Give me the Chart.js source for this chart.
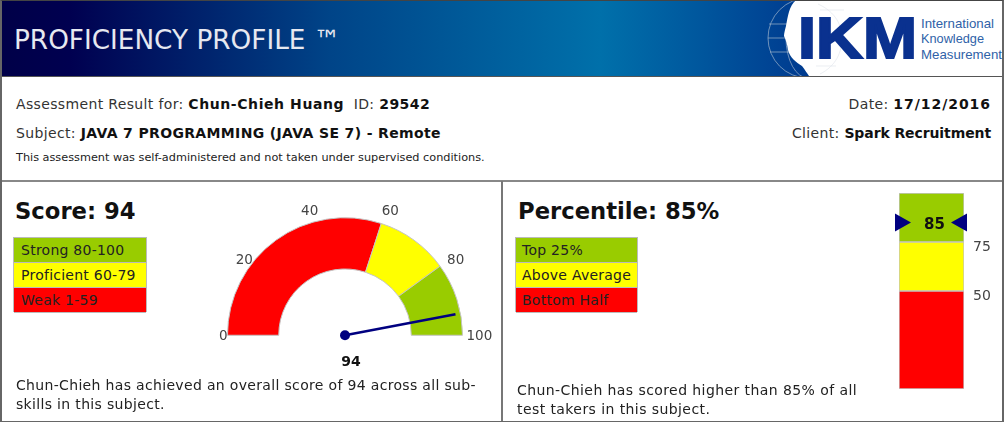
<!DOCTYPE html>
<html lang="en">
<head>
<meta charset="UTF-8">
<script src="https://cdn.jsdelivr.net/npm/chart.js"></script>
<style>
  html, body { margin: 0; padding: 0; background: #fff; }
  body { width: 1004px; height: 422px; position: relative; overflow: hidden; font-family: "DejaVu Sans", sans-serif; color: #333; }
  .abs { position: absolute; white-space: nowrap; }
  b { color: #111; letter-spacing: 0.45px; }
  #frame { position: absolute; left: 0; top: 0; width: 1000px; height: 420px; border: 2px solid #666; border-top-width: 1px; border-top-color: #444; border-bottom-width: 1px; pointer-events: none; z-index: 5; }
  #header { position: absolute; left: 0; top: 0; width: 1004px; height: 76px; border-bottom: 1px solid #555;
    background: linear-gradient(90deg, #000048 0, #000050 70px, #004488 330px, #0070aa 600px, #005ca0 680px, #003c90 800px); }
  #title { left: 14px; top: 25px; font-size: 26.3px; color: #e6e8f0; }
  #rule { position: absolute; left: 0; top: 180px; width: 1004px; height: 2px; background: #888; }
  #divider { position: absolute; left: 501px; top: 181px; width: 2px; height: 241px; background: #777; }
  .info { font-size: 14px; letter-spacing: 0.35px; }
  .heading { font-size: 22.7px; font-weight: bold; color: #111; }
  .legend { position: absolute; width: 134px; font-size: 14px; letter-spacing: 0.25px; color: #222; border: 1px solid #bbb; border-bottom: 0; box-sizing: border-box; }
  .legend div { height: 25px; line-height: 25px; padding-left: 7px; border-bottom: 1px solid #bbb; box-sizing: border-box; white-space: nowrap; }
  .note { font-size: 14px; letter-spacing: 0.33px; color: #222; line-height: 19px; }
  canvas { position: absolute; }
</style>
</head>
<body>
<div id="header">
  <div id="title" class="abs">PROFICIENCY PROFILE ™</div>
  <svg style="position:absolute;left:760px;top:0" width="244" height="76" viewBox="0 0 244 76">
    <g fill="none" stroke="#9fb4cc" stroke-width="0.7">
      <circle cx="48" cy="38" r="40"/>
      <ellipse cx="48" cy="38" rx="22" ry="40"/>
      <path d="M9 24H87M8 38H88M10 52H86"/>
    </g>
    <path fill="#fff" d="M36 0C29 6 28 16 26 26C25 30 24 33 24 36C26 40 27 44 28 50C30 58 36 62 42 66C45 70 47 73 49 76H244V0Z"/>
    <g fill="none" stroke="#e2e6ec" stroke-width="0.7">
      <path d="M58 4C76 12 82 26 82 38C82 52 76 66 60 74"/>
      <path d="M60 10H84M56 66H76"/>
    </g>
    <text x="38" y="58" font-family="Liberation Sans" font-weight="bold" font-size="58" fill="#0a318f" textLength="119" lengthAdjust="spacingAndGlyphs" stroke="#0a318f" stroke-width="2">IKM</text>
    <text x="161" y="28" font-family="Liberation Sans" font-size="13" fill="#2f62a8" textLength="73" lengthAdjust="spacingAndGlyphs">International</text>
    <text x="161" y="43" font-family="Liberation Sans" font-size="13" fill="#2f62a8" textLength="63" lengthAdjust="spacingAndGlyphs">Knowledge</text>
    <text x="161" y="59" font-family="Liberation Sans" font-size="13" fill="#2f62a8" textLength="81" lengthAdjust="spacingAndGlyphs">Measurement</text>
  </svg>
</div>

<div class="abs info" style="left:16px;top:96px">Assessment Result for: <b style="letter-spacing:0.58px">Chun-Chieh Huang</b> &nbsp;ID: <b>29542</b></div>
<div class="abs info" style="left:16px;top:125px">Subject: <b style="letter-spacing:0.35px">JAVA 7 PROGRAMMING (JAVA SE 7) - Remote</b></div>
<div class="abs" style="left:16px;top:151px;font-size:11.27px;color:#222">This assessment was self-administered and not taken under supervised conditions.</div>
<div class="abs info" style="right:13px;top:96px">Date: <b style="letter-spacing:0.95px">17/12/2016</b></div>
<div class="abs info" style="right:13px;top:125px">Client: <b style="letter-spacing:-0.1px">Spark Recruitment</b></div>

<div id="rule"></div>
<div id="divider"></div>

<div class="abs heading" style="left:15px;top:198px">Score: 94</div>
<div class="legend" style="left:13px;top:237px;height:75px">
  <div style="background:#99cc00">Strong 80-100</div>
  <div style="background:#ffff00">Proficient 60-79</div>
  <div style="background:#ff0000">Weak 1-59</div>
</div>
<canvas id="gauge" style="left:200px;top:190px;width:300px;height:190px" width="300" height="190"></canvas>
<div class="abs note" style="left:16px;top:376px">Chun-Chieh has achieved an overall score of 94 across all sub-<br>skills in this subject.</div>

<div class="abs heading" style="left:518px;top:198px">Percentile: 85%</div>
<div class="legend" style="left:515px;top:237px;height:75px;width:123px">
  <div style="background:#99cc00;padding-left:6px">Top 25%</div>
  <div style="background:#ffff00;padding-left:6px">Above Average</div>
  <div style="background:#ff0000;padding-left:6px">Bottom Half</div>
</div>
<canvas id="bar" style="left:870px;top:183px;width:130px;height:216px" width="130" height="216"></canvas>
<div class="abs note" style="left:517px;top:381px;letter-spacing:0.42px">Chun-Chieh has scored higher than 85% of all<br>test takers in this subject.</div>
<div id="frame"></div>

<script>
  // gauge
  const gaugeBands = [60, 20, 20];
  const gaugeColors = ['#ff0000', '#ffff00', '#99cc00'];
  const gaugeTicks = [0, 20, 40, 60, 80, 100];
  const gaugeMax = 100;
  const score = 94;

  // percentile bar
  const barBands = [50, 25, 25];
  const barColors = ['#ff0000', '#ffff00', '#99cc00'];
  const barTicks = [50, 75];
  const percentile = 85;

  const bandBorder = '#c4c4c4';
  const tickFont = '13.5px "DejaVu Sans"';

  // nudges so the gauge labels sit where the original puts them
  const labelDx = { 0: 0, 20: 3, 40: 1, 60: 9, 80: 7, 100: 4 };
  const labelDy = { 0: 1, 20: -6, 40: -12, 60: -12, 80: -6, 100: 1 };

  const gaugeOverlay = {
    id: 'gaugeOverlay',
    afterDraw(chart) {
      const arc = chart.getDatasetMeta(0).data[0];
      const ctx = chart.ctx;
      const cx = arc.x, cy = arc.y, r = arc.outerRadius;
      // value -> angle, same sweep as the doughnut
      const angleOf = v => Math.PI + (v / gaugeMax) * Math.PI;

      ctx.save();
      ctx.font = tickFont;
      ctx.fillStyle = '#444';
      ctx.textBaseline = 'middle';
      gaugeTicks.forEach(v => {
        const a = angleOf(v);
        ctx.textAlign = v <= 20 ? 'right' : (v >= 80 ? 'left' : 'center');
        ctx.fillText(v, cx + Math.cos(a) * r + labelDx[v], cy + Math.sin(a) * r + labelDy[v]);
      });

      const a = angleOf(score);
      ctx.strokeStyle = '#000080';
      ctx.lineWidth = 2.5;
      ctx.beginPath();
      ctx.moveTo(cx, cy);
      ctx.lineTo(cx + Math.cos(a) * (r - 5), cy + Math.sin(a) * (r - 5));
      ctx.stroke();
      ctx.fillStyle = '#000080';
      ctx.beginPath();
      ctx.arc(cx, cy, 5, 0, Math.PI * 2);
      ctx.fill();

      ctx.font = 'bold 14px "DejaVu Sans"';
      ctx.fillStyle = '#111';
      ctx.textAlign = 'center';
      ctx.fillText(score, cx + 6, cy + 27);
      ctx.restore();
    }
  };

  new Chart(document.getElementById('gauge'), {
    type: 'doughnut',
    data: {
      labels: ['Weak', 'Proficient', 'Strong'],
      datasets: [{ data: gaugeBands, backgroundColor: gaugeColors, borderColor: bandBorder, borderWidth: 1 }]
    },
    options: {
      responsive: false,
      animation: false,
      rotation: -90,
      circumference: 180,
      cutout: '56.4%',
      layout: { padding: { left: 27, right: 37, top: 27, bottom: 44 } },
      plugins: { legend: { display: false }, tooltip: { enabled: false } }
    },
    plugins: [gaugeOverlay]
  });

  const barOverlay = {
    id: 'barOverlay',
    afterDraw(chart) {
      const y = chart.scales.y.getPixelForValue(percentile);
      const { left, right } = chart.chartArea;
      const ctx = chart.ctx;
      ctx.save();
      ctx.fillStyle = '#000080';
      ctx.beginPath();
      ctx.moveTo(left - 4, y - 9);
      ctx.lineTo(left + 12, y);
      ctx.lineTo(left - 4, y + 9);
      ctx.closePath();
      ctx.moveTo(right + 3, y - 9);
      ctx.lineTo(right - 13, y);
      ctx.lineTo(right + 3, y + 9);
      ctx.closePath();
      ctx.fill();
      ctx.font = 'bold 15px "DejaVu Sans"';
      ctx.fillStyle = '#111';
      ctx.textAlign = 'center';
      ctx.textBaseline = 'middle';
      ctx.fillText(percentile, (left + right) / 2 + 3, y + 3);
      ctx.restore();
    }
  };

  new Chart(document.getElementById('bar'), {
    type: 'bar',
    data: {
      labels: ['Percentile'],
      datasets: barBands.map((v, i) => ({
        data: [v], backgroundColor: barColors[i], borderColor: bandBorder, borderWidth: 1, borderSkipped: false,
        barPercentage: 1, categoryPercentage: 1, stack: 'p'
      }))
    },
    options: {
      responsive: false,
      animation: false,
      layout: { padding: { left: 29, right: 0, top: 10, bottom: 10 } },
      scales: {
        x: { display: false, stacked: true },
        y: {
          position: 'right',
          stacked: true,
          min: 0,
          max: 100,
          border: { display: false },
          grid: { display: false, drawTicks: false },
          afterBuildTicks(scale) { scale.ticks = barTicks.map(v => ({ value: v })); },
          afterFit(scale) {
            scale.width = 36;
            // tick padding would otherwise eat into the bar height
            scale.paddingTop = 0;
            scale.paddingBottom = 0;
          },
          ticks: { font: { family: 'DejaVu Sans', size: 14 }, color: '#444', padding: 9, labelOffset: 5 }
        }
      },
      plugins: { legend: { display: false }, tooltip: { enabled: false } }
    },
    plugins: [barOverlay]
  });
</script>
</body>
</html>
